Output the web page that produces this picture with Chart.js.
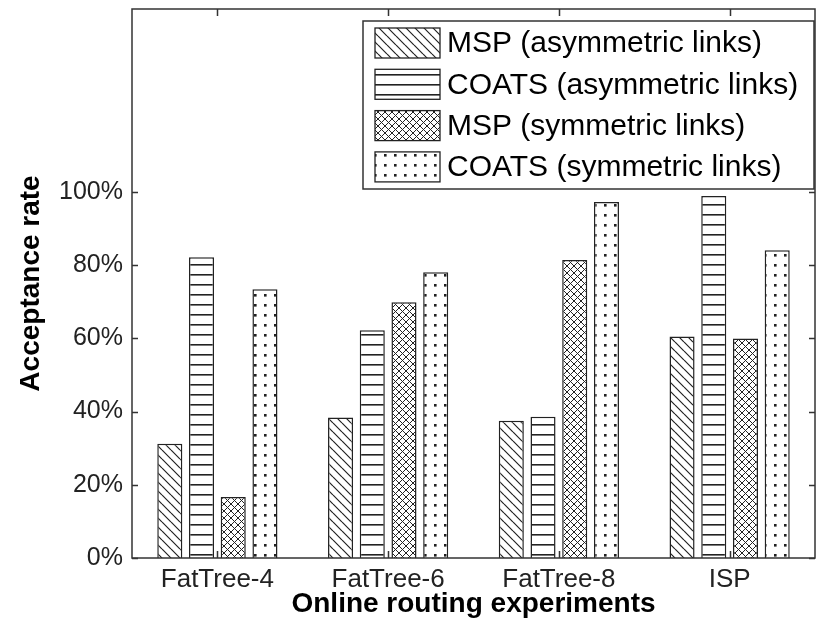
<!DOCTYPE html>
<html>
<head>
<meta charset="utf-8">
<title>Acceptance rate</title>
<script src="https://cdn.jsdelivr.net/npm/chart.js@4.4.1/dist/chart.umd.min.js"></script>
<style>
  html, body { margin: 0; padding: 0; background: #fff; }
  canvas { display: block; }
</style>
</head>
<body>
<canvas id="acceptanceChart" width="817" height="630"></canvas>
<script>
// Data
const categories = ['FatTree-4', 'FatTree-6', 'FatTree-8', 'ISP'];
const seriesNames = [
  'MSP (asymmetric links)',
  'COATS (asymmetric links)',
  'MSP (symmetric links)',
  'COATS (symmetric links)'
];
const mspAsym = [0.312, 0.384, 0.375, 0.605];
const coatsAsym = [0.822, 0.622, 0.386, 0.989];
const mspSym = [0.167, 0.699, 0.814, 0.600];
const coatsSym = [0.734, 0.781, 0.973, 0.841];
const yTickValues = [0, 0.2, 0.4, 0.6, 0.8, 1.0];
const yMax = 1.5;

const FONT = '"Liberation Sans", Arial, sans-serif';
const INK = '#222';

/**
 * Build a black and white hatch pattern like the MATLAB ones
 */
function makePattern(kind) {
  const c = document.createElement('canvas');
  const g = c.getContext('2d');
  let s = 10;
  if (kind === 'diag') s = 9;
  if (kind === 'cross') s = 7;
  c.width = s;
  c.height = s;
  g.fillStyle = '#fff';
  g.fillRect(0, 0, s, s);
  g.strokeStyle = INK;
  g.fillStyle = INK;
  g.lineWidth = 1.2;

  if (kind === 'diag') {
    g.beginPath();
    for (let k = -1; k <= 1; k++) {
      g.moveTo(0, k * s);
      g.lineTo(s, s + k * s);
    }
    g.stroke();
  } else if (kind === 'cross') {
    g.lineWidth = 1;
    g.beginPath();
    for (let k = -1; k <= 1; k++) {
      g.moveTo(0, k * s);
      g.lineTo(s, s + k * s);
    }
    for (let k = 0; k <= 2; k++) {
      g.moveTo(0, k * s);
      g.lineTo(s, k * s - s);
    }
    g.stroke();
  } else if (kind === 'hline') {
    g.fillRect(0, 4, s, 1.6);
  } else if (kind === 'dots') {
    g.fillRect(4, 4, 2.6, 2.6);
  }
  return g.createPattern(c, 'repeat');
}

const patterns = [makePattern('diag'), makePattern('hline'), makePattern('cross'), makePattern('dots')];
const seriesValues = [mspAsym, coatsAsym, mspSym, coatsSym];

// Box around the axes with inward tick marks on all four sides
const framePlugin = {
  id: 'frame',
  afterDatasetsDraw(chart) {
    const { ctx, chartArea: a, scales: { x, y } } = chart;
    ctx.save();
    ctx.strokeStyle = '#333';
    ctx.lineWidth = 1.5;
    ctx.strokeRect(a.left, a.top, a.right - a.left, a.bottom - a.top);
    ctx.beginPath();
    y.ticks.forEach(t => {
      const py = Math.round(y.getPixelForValue(t.value)) + 0.5;
      ctx.moveTo(a.left, py);
      ctx.lineTo(a.left + 6, py);
      ctx.moveTo(a.right, py);
      ctx.lineTo(a.right - 6, py);
    });
    x.ticks.forEach((t, i) => {
      const px = Math.round(x.getPixelForTick(i)) + 0.5;
      ctx.moveTo(px, a.bottom);
      ctx.lineTo(px, a.bottom - 7);
      ctx.moveTo(px, a.top);
      ctx.lineTo(px, a.top + 7);
    });
    ctx.stroke();
    ctx.restore();
  }
};

// Legend drawn as a boxed list in the upper right corner of the axes
const legendPlugin = {
  id: 'boxLegend',
  afterDraw(chart) {
    const { ctx, chartArea: a } = chart;
    const boxW = 451, boxH = 168;
    const left = a.right - 1 - boxW;
    const top = a.top + 12;
    ctx.save();
    ctx.fillStyle = '#fff';
    ctx.fillRect(left, top, boxW, boxH);
    ctx.strokeStyle = '#333';
    ctx.lineWidth = 1.5;
    ctx.strokeRect(left, top, boxW, boxH);

    ctx.font = '30px ' + FONT;
    ctx.textBaseline = 'middle';
    chart.data.datasets.forEach((ds, i) => {
      const sy = top + 7 + i * 41.3;
      ctx.fillStyle = ds.backgroundColor;
      ctx.fillRect(left + 12, sy, 65, 30);
      ctx.strokeStyle = INK;
      ctx.lineWidth = 1.3;
      ctx.strokeRect(left + 12, sy, 65, 30);
      ctx.fillStyle = '#000';
      ctx.fillText(ds.label, left + 84, sy + 16);
    });
    ctx.restore();
  }
};

const ctx = document.getElementById('acceptanceChart').getContext('2d');
window.acceptanceChart = new Chart(ctx, {
  type: 'bar',
  data: {
    labels: categories,
    datasets: seriesNames.map((name, i) => ({
      label: name,
      data: seriesValues[i],
      backgroundColor: patterns[i],
      borderColor: INK,
      borderWidth: 1.5,
      categoryPercentage: 0.743,
      barPercentage: 0.79
    }))
  },
  options: {
    responsive: false,
    animation: false,
    layout: { padding: { top: 9, right: 2, left: 0, bottom: 0 } },
    plugins: {
      legend: { display: false },
      tooltip: { enabled: false }
    },
    scales: {
      x: {
        grid: { display: false, drawTicks: false },
        border: { display: false },
        ticks: {
          color: INK,
          padding: 6,
          font: { family: FONT, size: 26 }
        },
        title: {
          display: true,
          text: 'Online routing experiments',
          color: '#000',
          font: { family: FONT, size: 28, weight: 'bold' },
          padding: { top: 0, bottom: 9 }
        },
        afterFit(scale) {
          scale.height = 72;
          scale.paddingLeft = 0;
          scale.paddingRight = 0;
        }
      },
      y: {
        min: 0,
        max: yMax,
        grid: { display: false, drawTicks: false },
        border: { display: false },
        afterBuildTicks(scale) {
          scale.ticks = yTickValues.map(v => ({ value: v }));
        },
        ticks: {
          color: INK,
          padding: 9,
          font: { family: FONT, size: 25 },
          callback: v => Math.round(v * 100) + '%'
        },
        title: {
          display: true,
          text: 'Acceptance rate',
          color: '#000',
          font: { family: FONT, size: 28, weight: 'bold' },
          padding: { top: 14, bottom: 0 }
        },
        afterFit(scale) {
          scale.width = 132;
          scale.paddingTop = 0;
          scale.paddingBottom = 0;
        }
      }
    }
  },
  plugins: [framePlugin, legendPlugin]
});
</script>
</body>
</html>
